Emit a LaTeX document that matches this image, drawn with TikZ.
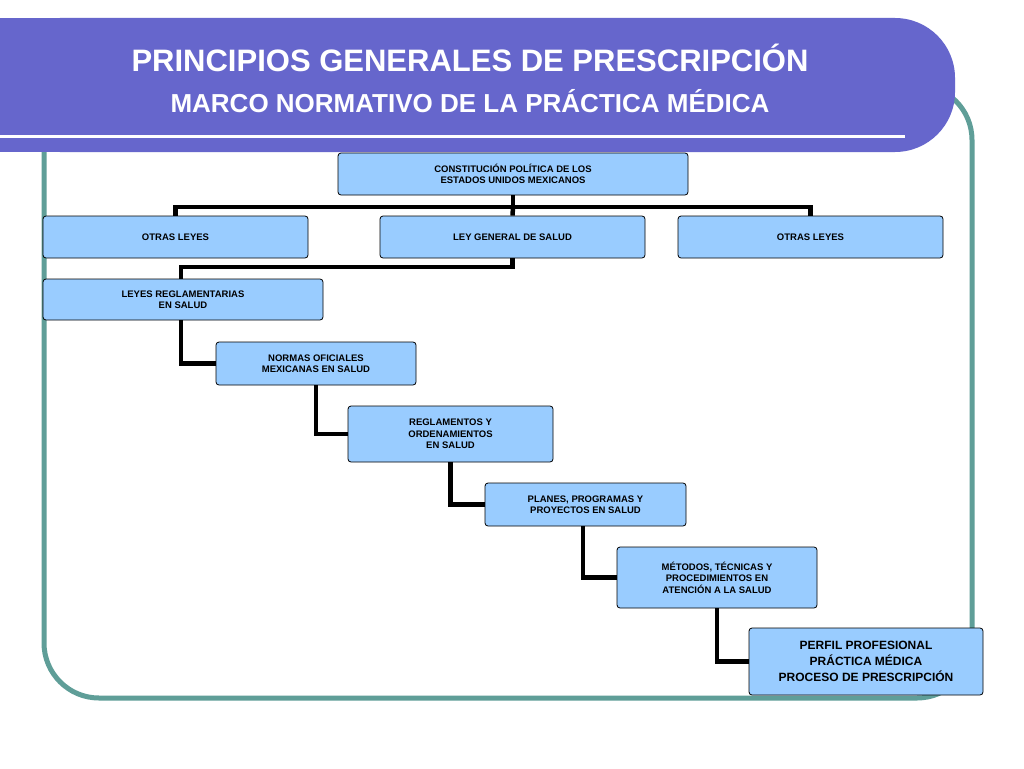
\documentclass[tikz,border=0pt]{standalone}
\usepackage{fontspec}
\setmainfont{Liberation Sans}
\begin{document}
\begin{tikzpicture}[x=1pt,y=-1pt,
  bx/.style={draw=black,fill=boxblue,rounded corners=3pt,line width=0.8pt,font=\bfseries\fontsize{9.5}{11.5}\selectfont,align=center,inner sep=0pt},
  con/.style={line width=4.5pt,draw=black}]
\definecolor{boxblue}{HTML}{99CCFF}
\definecolor{teal1}{HTML}{5F9E98}
\definecolor{purp}{HTML}{6666CC}
\useasboundingbox (0,0) rectangle (1024,768);
\fill[white] (0,0) rectangle (1024,768);
\draw[teal1,line width=5pt,rounded corners=55pt] (44,100) -- (44,698) -- (972,698) -- (972,85) -- (800,85);
\fill[purp,rounded corners=60pt] (0,18) -- (955,18) -- (955,152) -- (0,152) -- cycle;
\fill[purp] (0,18) rectangle (100,152);
\draw[white,line width=3pt] (0,136) -- (905,136);
\node[white,font=\bfseries\fontsize{31}{34}\selectfont] (t1) at (470,58) {PRINCIPIOS GENERALES DE PRESCRIPCIÓN};
\node[white,font=\bfseries\fontsize{26}{30}\selectfont] (t2) at (470,101) {MARCO NORMATIVO DE LA PRÁCTICA MÉDICA};
\node[bx,minimum width=350pt,minimum height=42pt] (c) at (513,174) {CONSTITUCIÓN POLÍTICA  DE LOS\\ESTADOS UNIDOS MEXICANOS};
\node[bx,minimum width=265pt,minimum height=42pt] (o1) at (175.5,237) {OTRAS LEYES};
\node[bx,minimum width=265pt,minimum height=42pt] (l) at (512.5,237) {LEY GENERAL DE SALUD};
\node[bx,minimum width=265pt,minimum height=42pt] (o2) at (810.5,237) {OTRAS LEYES};
\node[bx,minimum width=280pt,minimum height=41pt] (r) at (183,299.5) {LEYES REGLAMENTARIAS\\EN SALUD};
\node[bx,minimum width=200pt,minimum height=43pt] (n) at (316,363.5) {NORMAS OFICIALES\\MEXICANAS EN SALUD};
\node[bx,minimum width=205pt,minimum height=56pt] (g) at (450.5,434) {REGLAMENTOS Y\\ORDENAMIENTOS\\EN SALUD};
\node[bx,minimum width=201pt,minimum height=43pt] (p) at (585.5,504.5) {PLANES, PROGRAMAS Y\\PROYECTOS EN SALUD};
\node[bx,minimum width=200pt,minimum height=61pt] (m) at (717,577.5) {MÉTODOS, TÉCNICAS Y\\PROCEDIMIENTOS EN\\ATENCIÓN A LA SALUD};
\node[bx,minimum width=234pt,minimum height=67pt,font=\bfseries\fontsize{12}{16}\selectfont] (f) at (866,661.5) {PERFIL PROFESIONAL\\PRÁCTICA MÉDICA\\PROCESO DE PRESCRIPCIÓN};
\coordinate (h) at (513,207);
\draw[con] (c.south) -- (h);
\draw[con] (o1.north) |- (h) -| (o2.north);
\draw[con] (h) -- (l.north);
\draw[con] (l.south) |- (181,267) -- (181,279);
\draw[con] (181,320) |- (n.west);
\draw[con] (n.south) |- (g.west);
\draw[con] (g.south) |- (p.west);
\draw[con] (583,526) |- (m.west);
\draw[con] (m.south) |- (f.west);
\end{tikzpicture}
\end{document}
